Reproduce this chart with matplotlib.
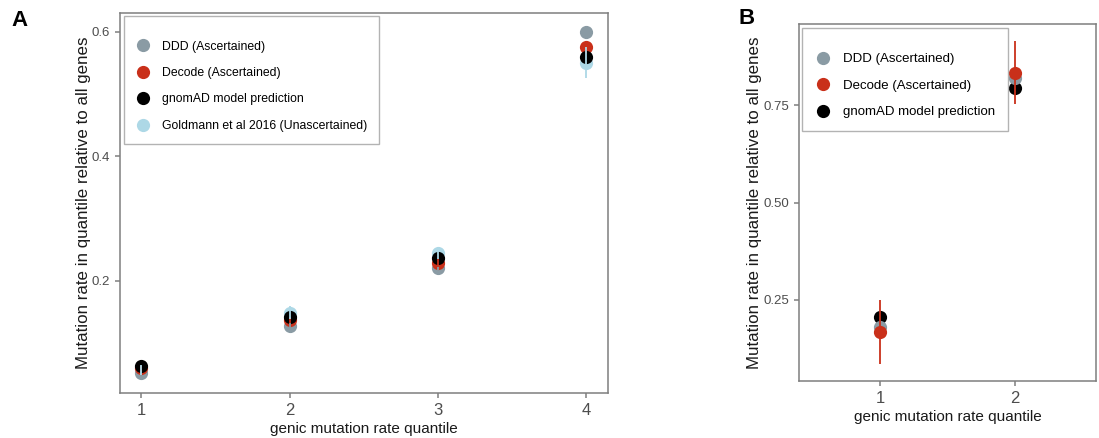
"""Mutation rate by genic mutation rate quantile, panels A and B."""
import matplotlib.pyplot as plt
from matplotlib.lines import Line2D

plt.rcParams['font.family'] = ['Liberation Sans', 'DejaVu Sans']

# Panel A data
quant_a = [1, 2, 3, 4]
ddd_a = [0.052, 0.128, 0.221, 0.600]
ddd_a_err = [0.003, 0.004, 0.004, 0.006]
decode_a = [0.060, 0.137, 0.229, 0.575]
decode_a_err = [0.004, 0.005, 0.006, 0.010]
gnomad_a = [0.063, 0.142, 0.237, 0.560]
goldmann_a = [0.057, 0.149, 0.245, 0.550]
goldmann_a_err = [0.008, 0.010, 0.010, 0.025]

# Panel B data
quant_b = [1, 2]
ddd_b = [0.180, 0.822]
decode_b = [0.167, 0.835]
decode_b_err = [0.082, 0.081]
gnomad_b = [0.206, 0.794]

GREY = '#8A9BA4'
RED = '#C9301A'
LBLUE = '#ADD8E6'
FRAME = '#7F7F7F'
TICK = '#4D4D4D'
MS = 9.5

fig = plt.figure(figsize=(10.99, 4.38), dpi=100)
W, H = 1099, 438
ax_a = fig.add_axes([120 / W, 1 - 393 / H, (608 - 120) / W, (393 - 13) / H])
ax_b = fig.add_axes([799 / W, 1 - 381 / H, (1096 - 799) / W, (381 - 24) / H])


def style(ax, pad):
    for s in ax.spines.values():
        s.set_color(FRAME)
        s.set_linewidth(1.1)
    ax.tick_params(axis='y', colors=FRAME, labelcolor=TICK, labelsize=9.5,
                   length=3.5, width=1.1)
    ax.tick_params(axis='x', colors=FRAME, labelcolor=TICK, labelsize=12,
                   length=3.5, width=1.1)
    ax.set_xlabel('genic mutation rate quantile', fontsize=11, color='#1A1A1A',
                  labelpad=3)
    ax.set_ylabel('Mutation rate in quantile relative to all genes',
                  fontsize=12.2, color='#1A1A1A', labelpad=pad)


def legend(ax, handles, labels, anchor, fs, spacing, top_sep):
    # empty title gives the extra room ggplot leaves above the keys
    leg = ax.legend(handles, labels, loc='upper left', bbox_to_anchor=anchor,
                    title=' ', title_fontsize=4, fontsize=fs, frameon=True,
                    fancybox=False, edgecolor='#A0A0A0', borderpad=1.0,
                    labelspacing=spacing, handletextpad=0.9, handlelength=1.2,
                    borderaxespad=0)
    leg._legend_box.sep = top_sep
    leg.get_frame().set_linewidth(1.0)
    return leg


# Panel A
ax_a.plot(quant_a, goldmann_a, 'o', color=LBLUE, ms=MS, mew=0, zorder=2)
ax_a.plot(quant_a, ddd_a, 'o', color=GREY, ms=MS, mew=0, zorder=2)
ax_a.plot(quant_a, decode_a, 'o', color=RED, ms=MS, mew=0, zorder=3)
ax_a.plot(quant_a, gnomad_a, 'o', color='black', ms=MS, mew=0, zorder=4)
ax_a.errorbar(quant_a, ddd_a, yerr=ddd_a_err, fmt='none', ecolor=GREY,
              elinewidth=1.3, zorder=5)
ax_a.errorbar(quant_a, decode_a, yerr=decode_a_err, fmt='none', ecolor=RED,
              elinewidth=1.3, zorder=5)
ax_a.errorbar(quant_a, goldmann_a, yerr=goldmann_a_err, fmt='none', ecolor=LBLUE,
              elinewidth=1.3, zorder=6)
ax_a.set_xlim(0.855, 4.15)
ax_a.set_ylim(0.02, 0.63)
ax_a.set_xticks(quant_a)
ax_a.set_yticks([0.2, 0.4, 0.6])
ax_a.set_yticklabels(['0.2', '0.4', '0.6'])
style(ax_a, 0.5)

handles_a = [
    Line2D([], [], ls='none', marker='o', color=GREY, ms=MS, mew=0),
    Line2D([], [], ls='none', marker='o', color=RED, ms=MS, mew=0),
    Line2D([], [], ls='none', marker='o', color='black', ms=MS, mew=0),
    Line2D([], [], ls='none', marker='o', color=LBLUE, ms=MS, mew=0),
]
labels_a = ['DDD (Ascertained)', 'Decode (Ascertained)',
            'gnomAD model prediction', 'Goldmann et al 2016 (Unascertained)']
legend(ax_a, handles_a, labels_a, (0.008, 0.992), 8.8, 1.18, 5.3)

# Panel B
ax_b.plot(quant_b, gnomad_b, 'o', color='black', ms=MS, mew=0, zorder=2)
ax_b.plot(quant_b, ddd_b, 'o', color=GREY, ms=MS, mew=0, zorder=3)
ax_b.plot(quant_b, decode_b, 'o', color=RED, ms=MS, mew=0, zorder=4)
ax_b.errorbar(quant_b, decode_b, yerr=decode_b_err, fmt='none', ecolor=RED,
              elinewidth=1.3, zorder=5)
ax_b.set_xlim(0.4, 2.6)
ax_b.set_ylim(0.04, 0.96)
ax_b.set_xticks(quant_b)
ax_b.set_yticks([0.25, 0.5, 0.75])
ax_b.set_yticklabels(['0.25', '0.50', '0.75'])
style(ax_b, 1.4)
legend(ax_b, handles_a[:3], labels_a[:3], (0.01, 0.989), 9.5, 1.08, 4.9)

fig.text(19 / W, 1 - 20 / H, 'A', fontsize=16, fontweight='bold',
         ha='center', va='center')
fig.text(747 / W, 1 - 19 / H, 'B', fontsize=16, fontweight='bold',
         ha='center', va='center')

plt.savefig('out.png', dpi=100)
